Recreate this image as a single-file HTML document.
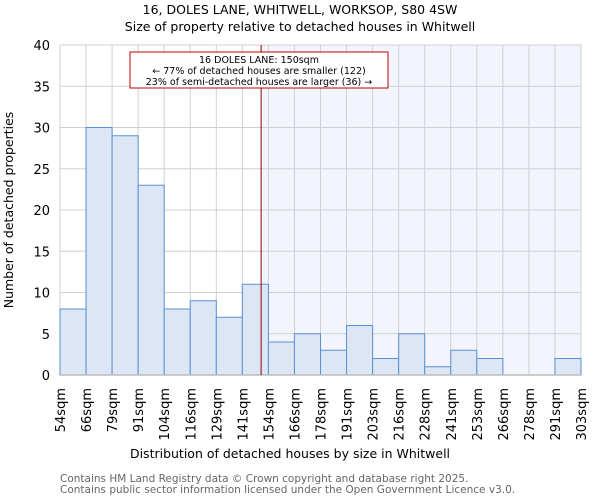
<!DOCTYPE html>
<html><head><meta charset="utf-8"><style>
body{margin:0;background:#fff;font-family:"DejaVu Sans",sans-serif}
</style></head><body>
<svg width="600" height="500" font-family="DejaVu Sans, sans-serif">
<text x="300" y="14" text-anchor="middle" font-size="12.5">16, DOLES LANE, WHITWELL, WORKSOP, S80 4SW</text>
<text x="300" y="31" text-anchor="middle" font-size="12.5">Size of property relative to detached houses in Whitwell</text>
<g id="plot"></g>
<text x="290" y="458" text-anchor="middle" font-size="12.5">Distribution of detached houses by size in Whitwell</text>
<text transform="translate(13,210) rotate(-90)" text-anchor="middle" font-size="12.5">Number of detached properties</text>
<text x="60" y="482" font-size="10.5" fill="#666">Contains HM Land Registry data © Crown copyright and database right 2025.</text>
<text x="60" y="493" font-size="10.5" fill="#666">Contains public sector information licensed under the Open Government Licence v3.0.</text>
</svg>
<script>
const categories=["54sqm","66sqm","79sqm","91sqm","104sqm","116sqm","129sqm","141sqm","154sqm","166sqm","178sqm","191sqm","203sqm","216sqm","228sqm","241sqm","253sqm","266sqm","278sqm","291sqm","303sqm"];
const counts=[8,30,29,23,8,9,7,11,4,5,3,6,2,5,1,3,2,0,0,2];
const yTicks=[0,5,10,15,20,25,30,35,40];
const markerBin=7.72;
const NS="http://www.w3.org/2000/svg";
const g=document.getElementById('plot');
const X0=60,X1=581,Y0=375,Y1=45,YMAX=40;
const bw=(X1-X0)/counts.length;
const xs=i=>X0+i*bw, ys=v=>Y0-(v/YMAX)*(Y0-Y1);
function mk(t,a){const e=document.createElementNS(NS,t);for(const k in a)e.setAttribute(k,a[k]);g.appendChild(e);return e;}
const mx=xs(markerBin);
let e=mk('rect',{x:mx,y:Y1,width:X1-mx,height:Y0-Y1,fill:'#f2f5fd'});


for(let i=0;i<=counts.length;i++){mk('line',{x1:xs(i),x2:xs(i),y1:Y1,y2:Y0,stroke:'#d0d0d0','stroke-width':1});}
yTicks.forEach(v=>{mk('line',{x1:X0,x2:X1,y1:ys(v),y2:ys(v),stroke:'#d0d0d0','stroke-width':1});
 const t=mk('text',{x:X0-10,y:ys(v)+5,'text-anchor':'end','font-size':13});t.textContent=v;
 
 });
counts.forEach((c,i)=>{if(c<=0)return;
 const r=mk('rect',{x:xs(i),y:ys(c),width:bw,height:Y0-ys(c),fill:'#dce6f5',stroke:'#5b8fd6','stroke-width':1});
 
 });
mk('line',{x1:X0,x2:X1,y1:Y0,y2:Y0,stroke:'#bbb','stroke-width':1.5});
categories.forEach((c,i)=>{const x=xs(i);
 const t=mk('text',{transform:`translate(${x+5},${Y0+13}) rotate(-90)`,'text-anchor':'end','font-size':13});t.textContent=c;
 
 });
e=mk('line',{x1:mx,x2:mx,y1:Y1,y2:Y0,stroke:'#900000','stroke-width':1});


e=mk('rect',{x:130,y:52,width:258,height:36,fill:'#fff',stroke:'#c00000','stroke-width':1});


["16 DOLES LANE: 150sqm","← 77% of detached houses are smaller (122)","23% of semi-detached houses are larger (36) →"].forEach((s,k)=>{
 const t=mk('text',{x:259,y:63+k*11,'text-anchor':'middle','font-size':9.5});t.textContent=s;
 
 });
</script>
</body></html>
